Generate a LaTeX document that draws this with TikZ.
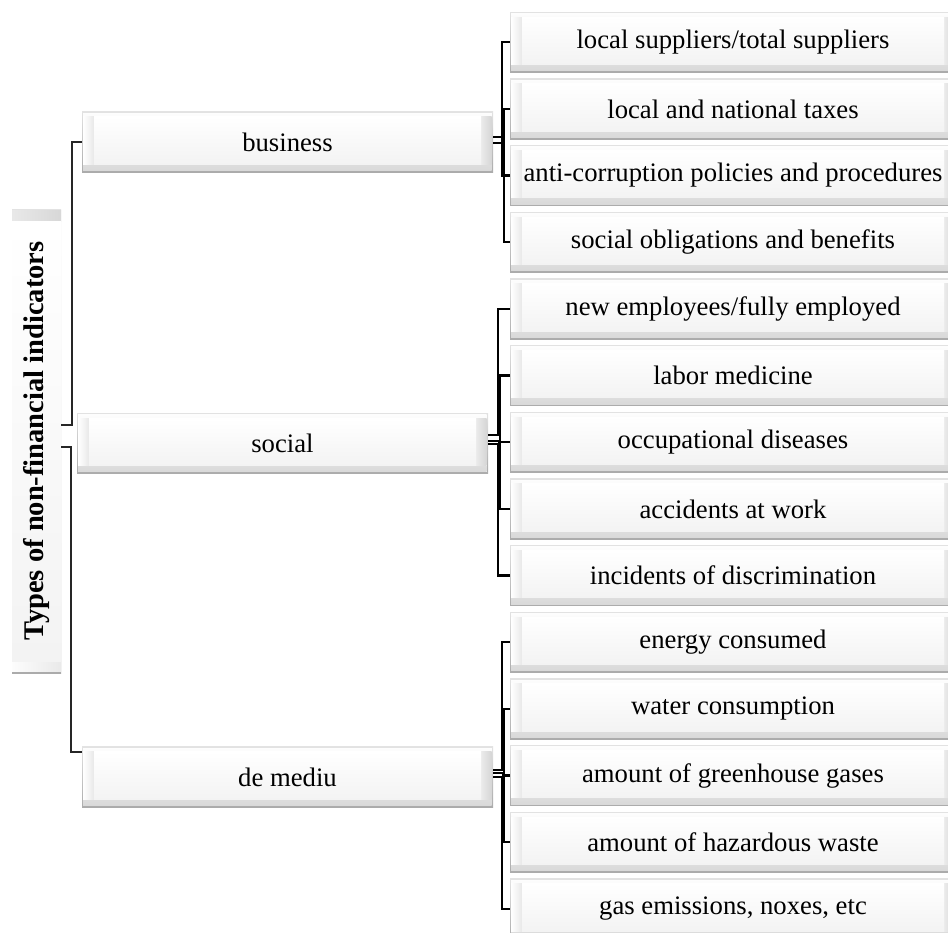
\documentclass[tikz,border=0pt]{standalone}
\usepackage{fontspec}
\setmainfont{Liberation Serif}
\definecolor{bvtop}{HTML}{E2E2E2}
\definecolor{bvbot}{HTML}{ABABAB}
\definecolor{bvhi}{HTML}{FDFDFD}
\definecolor{bvmid}{HTML}{D9D9D9}
\definecolor{bvface}{HTML}{F3F3F3}
\begin{document}
\begin{tikzpicture}[x=1pt,y=-1pt,
  bvl/.store in=\bvl, bvr/.store in=\bvr, bvt/.store in=\bvt, bvb/.store in=\bvb,
  bvl=12pt, bvr=12pt, bvt=5pt, bvb=8pt,
  bevelbox/.style={rectangle, inner sep=0pt, fill=white, text=black,
    font=\fontsize{26.7}{30}\selectfont,
    path picture={
      \fill[top color=bvtop, bottom color=bvbot]
        (path picture bounding box.south west) rectangle (path picture bounding box.north east);
      \fill[top color=bvhi, bottom color=bvmid]
        ([shift={(1.2pt,1.8pt)}]path picture bounding box.south west) rectangle
        ([shift={(-1.4pt,-1.4pt)}]path picture bounding box.north east);
      \fill[left color=white, right color=black!9]
        ([shift={(1.2pt,\bvb)}]path picture bounding box.south west) rectangle
        ([shift={(\bvl,-\bvt)}]path picture bounding box.south west |- path picture bounding box.north east);
      \fill[left color=black!8, right color=black!16]
        ([shift={(-\bvr,\bvb)}]path picture bounding box.north east |- path picture bounding box.south west) rectangle
        ([shift={(-1.4pt,-\bvt)}]path picture bounding box.north east);
      \fill[top color=white, bottom color=bvface]
        ([shift={(\bvl,\bvb)}]path picture bounding box.south west) rectangle
        ([shift={(-\bvr,-\bvt)}]path picture bounding box.north east);
    }},
  leaf/.style={bevelbox, minimum width=446pt, minimum height=60.5pt},
  midbox/.style={bevelbox, minimum width=411pt, minimum height=60.5pt},
  rootbox/.style={bevelbox, rotate=90, minimum width=464pt, minimum height=49pt,
    bvl=12pt, bvr=12pt, bvt=3pt, bvb=6pt, font=\fontsize{28.5}{32}\selectfont\bfseries},
  lconn/.style={draw=black!85, line width=2pt},
  rconn/.style={draw=black, line width=2.2pt}
]
\useasboundingbox (0,0) rectangle (948,932);
\clip (0,0) rectangle (948,932);

% root
\node[rootbox] (root) at (36.5,441) {Types of non-financial indicators};

% middle level
\node[midbox] (bus) at (287.5,142)   {business};
\node[midbox] (soc) at (282.5,443.5) {social};
\node[midbox] (env) at (287.5,777)   {de mediu};

% leaves
\node[leaf] (l0)  at (733,42.25)  {local suppliers/total suppliers};
\node[leaf] (l1)  at (733,108.95) {local and national taxes};
\node[leaf] (l2)  at (733,175.55) {anti-corruption policies and procedures};
\node[leaf] (l3)  at (733,242.25) {social obligations and benefits};
\node[leaf] (l4)  at (733,308.95) {new employees/fully employed};
\node[leaf] (l5)  at (733,375.55) {labor medicine};
\node[leaf] (l6)  at (733,442.25) {occupational diseases};
\node[leaf] (l7)  at (733,508.95) {accidents at work};
\node[leaf] (l8)  at (733,575.55) {incidents of discrimination};
\node[leaf] (l9)  at (733,642.25) {energy consumed};
\node[leaf] (l10) at (733,708.95) {water consumption};
\node[leaf] (l11) at (733,775.55) {amount of greenhouse gases};
\node[leaf] (l12) at (733,842.25) {amount of hazardous waste};
\node[leaf] (l13) at (733,908.95) {gas emissions, noxes, etc};

% root connectors
\draw[lconn] ([yshift=16pt]root.south) -- ++(11,0) |- (bus.west);
\draw[lconn] ([yshift=-6pt]root.south) -- ++(10,0) |- ([yshift=25pt]env.west);

% business connectors
\draw[rconn] ([yshift=5pt]bus.east)  -- ++(9,0)  |- (l0.west);
\draw[rconn] ([yshift=-1pt]bus.east) -- ++(11,0) |- (l1.west);
\draw[rconn] ([yshift=5pt]bus.east)  -- ++(9,0)  |- (l2.west);
\draw[rconn] ([yshift=-1pt]bus.east) -- ++(11,0) |- (l3.west);

% social connectors
\draw[rconn] ([yshift=8.5pt]soc.east)  -- ++(10,0) |- (l4.west);
\draw[rconn] ([yshift=2.5pt]soc.east)  -- ++(12,0) |- (l5.west);
\draw[rconn] ([yshift=-0.5pt]soc.east) -- ++(11,0) |- (l6.west);
\draw[rconn] ([yshift=-0.5pt]soc.east) -- ++(12,0) |- (l7.west);
\draw[rconn] ([yshift=-0.5pt]soc.east) -- ++(10,0) |- (l8.west);

% environment connectors
\draw[rconn] ([yshift=7pt]env.east) -- ++(9,0)  |- (l9.west);
\draw[rconn] ([yshift=4pt]env.east) -- ++(11,0) |- (l10.west);
\draw[rconn] (env.east)             -- ++(10,0) |- (l11.west);
\draw[rconn] (env.east)             -- ++(11,0) |- (l12.west);
\draw[rconn] (env.east)             -- ++(9,0)  |- (l13.west);
\end{tikzpicture}
\end{document}
